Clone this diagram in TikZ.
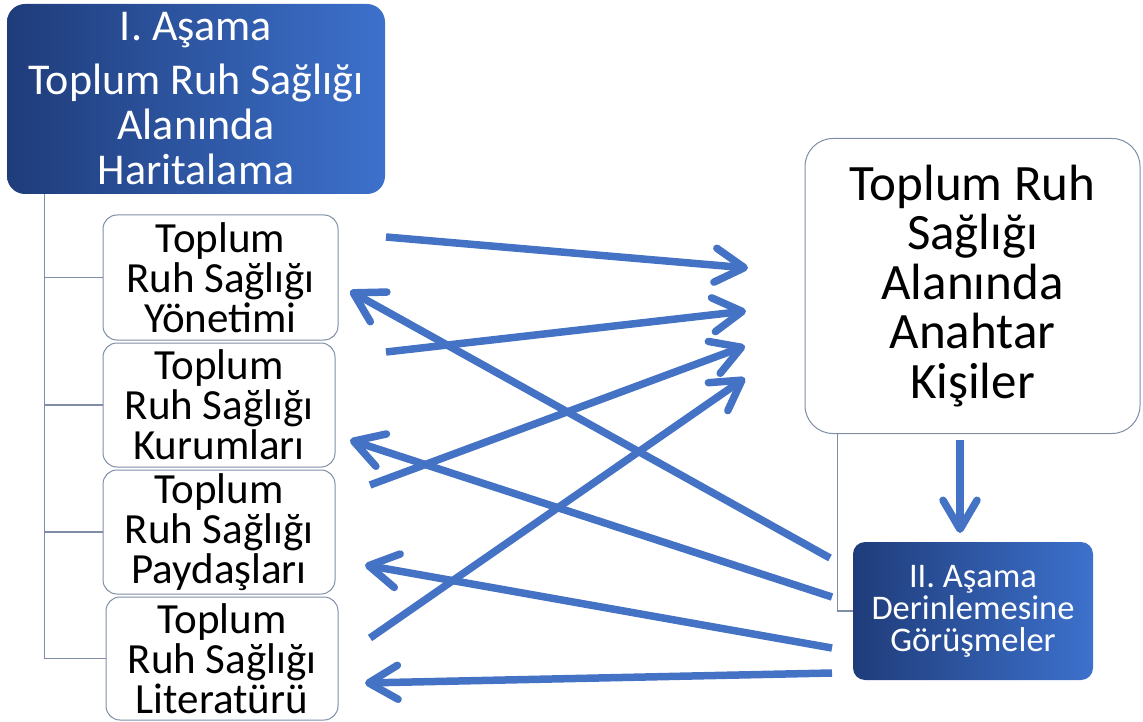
\documentclass[tikz,border=0pt]{standalone}
\usepackage{fontspec}
\setmainfont{Carlito}
\usetikzlibrary{arrows.meta}
\definecolor{arrowblue}{HTML}{4472C4}
\definecolor{darkA}{HTML}{1F3C7A}
\definecolor{darkB}{HTML}{3D71CC}
\definecolor{linegray}{HTML}{7F8EA6}
\begin{document}
\begin{tikzpicture}[x=1pt,y=-1pt,
  darkbox/.style={rounded corners=18pt, left color=darkA, right color=darkB, text=white, align=center, inner sep=0pt},
  subbox/.style={draw=linegray, line width=1pt, rounded corners=14pt, fill=white, align=center, inner sep=0pt,
    font=\fontsize{43}{40}\selectfont},
  conn/.style={draw=linegray, line width=1.2pt},
  bigarrow/.style={draw=arrowblue, line width=7.5pt, -{Straight Barb[length=29pt,width=34pt,round]}}
]
\useasboundingbox (0,0) rectangle (1143,722);

\node[darkbox, minimum width=378pt, minimum height=190pt, font=\fontsize{44}{45}\selectfont] (top) at (196,99)
  {I. Aşama\\[9pt]Toplum Ruh Sağlığı\\Alanında\\Haritalama};

\node[subbox, minimum width=235pt, minimum height=125pt] (s1) at (220.5,277.5) {Toplum\\Ruh Sağlığı\\Yönetimi};
\node[subbox, minimum width=232pt, minimum height=124pt] (s2) at (219,405) {Toplum\\Ruh Sağlığı\\Kurumları};
\node[subbox, minimum width=232pt, minimum height=124pt] (s3) at (219,532) {Toplum\\Ruh Sağlığı\\Paydaşları};
\node[subbox, minimum width=232pt, minimum height=123pt] (s4) at (222,658.5) {Toplum\\Ruh Sağlığı\\Literatürü};

\draw[conn] ([xshift=38pt]top.south west) |- (s1.west);
\draw[conn] ([xshift=38pt]top.south west) |- (s2.west);
\draw[conn] ([xshift=38pt]top.south west) |- (s3.west);
\draw[conn] ([xshift=38pt]top.south west) |- (s4.west);

\node[draw=linegray, line width=1pt, rounded corners=28pt, fill=white, align=center, inner sep=0pt,
  minimum width=335pt, minimum height=295pt, font=\fontsize{51}{49.5}\selectfont] (key) at (972.5,286)
  {Toplum Ruh\\Sağlığı\\Alanında\\Anahtar\\Kişiler};

\node[darkbox, rounded corners=12pt, minimum width=240pt, minimum height=138pt, font=\fontsize{34.5}{32}\selectfont] (ii) at (973,611)
  {II. Aşama\\Derinlemesine\\Görüşmeler};

\draw[conn] ([xshift=33pt]key.south west) |- (ii.west);

\coordinate (a1s) at (386,237); \coordinate (a1e) at (748,268);
\coordinate (a2s) at (386,352); \coordinate (a2e) at (746,311);
\coordinate (a3s) at (370,485); \coordinate (a3e) at (745,346);
\coordinate (a4s) at (370,638); \coordinate (a4e) at (745,378);
\coordinate (b1s) at (830,558); \coordinate (b1e) at (350,291);
\coordinate (b2s) at (832,597); \coordinate (b2e) at (350,440);
\coordinate (b3s) at (832,648); \coordinate (b3e) at (365,565);
\coordinate (b4s) at (832,673); \coordinate (b4e) at (365,683);
\coordinate (ds) at (960,440); \coordinate (de) at (960,533);

\draw[bigarrow] (a1s) -- (a1e);
\draw[bigarrow] (a2s) -- (a2e);
\draw[bigarrow] (a3s) -- (a3e);
\draw[bigarrow] (a4s) -- (a4e);
\draw[bigarrow] (b1s) -- (b1e);
\draw[bigarrow] (b2s) -- (b2e);
\draw[bigarrow] (b3s) -- (b3e);
\draw[bigarrow] (b4s) -- (b4e);
\draw[bigarrow] (ds) -- (de);
\end{tikzpicture}
\end{document}
